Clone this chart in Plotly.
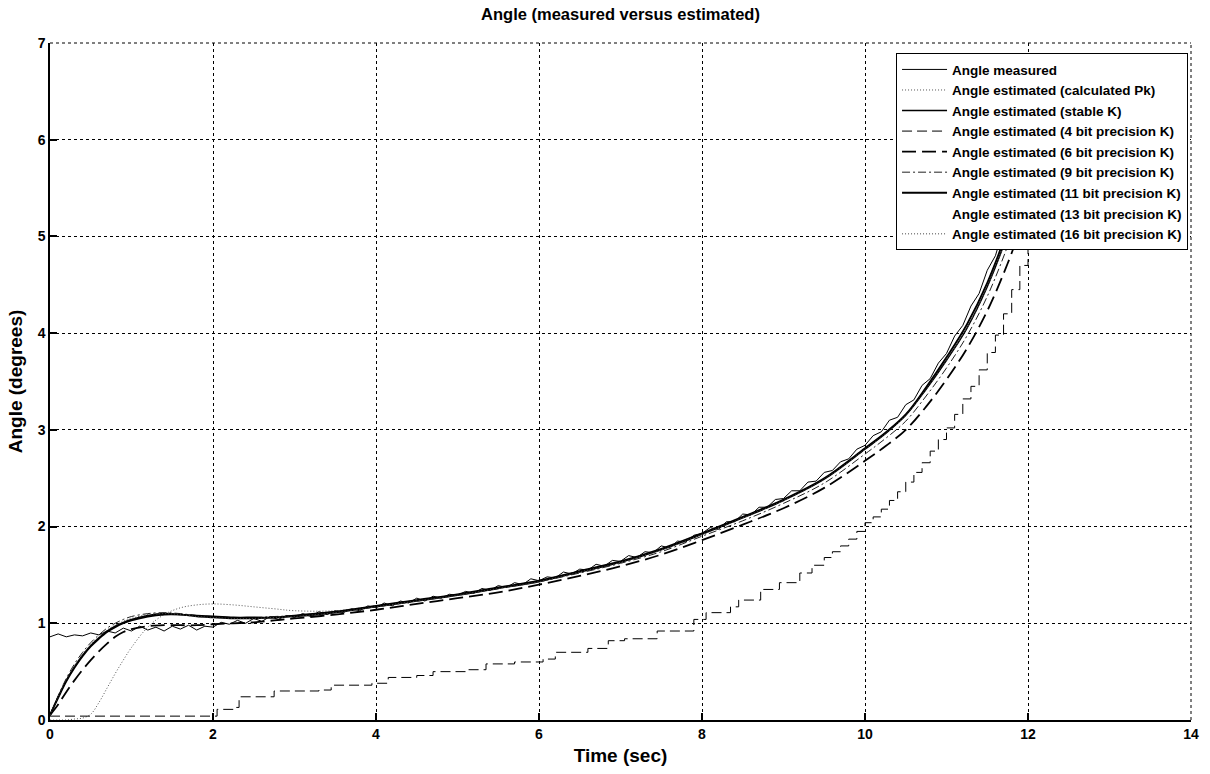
import plotly.graph_objects as go

# ---------------- data ----------------
t_meas = [0.0, 0.1, 0.2, 0.3, 0.4, 0.5, 0.6, 0.7, 0.8, 0.9,
          1.0, 1.1, 1.2, 1.3, 1.4, 1.5, 1.6, 1.7, 1.8, 1.9,
          2.0, 2.1, 2.2, 2.3, 2.4, 2.5, 2.6, 2.7, 2.8, 2.9,
          3.0, 3.1, 3.2, 3.3, 3.4, 3.5, 3.6, 3.7, 3.8, 3.9,
          4.0, 4.1, 4.2, 4.3, 4.4, 4.5, 4.6, 4.7, 4.8, 4.9,
          5.0, 5.1, 5.2, 5.3, 5.4, 5.5, 5.6, 5.7, 5.8, 5.9,
          6.0, 6.1, 6.2, 6.3, 6.4, 6.5, 6.6, 6.7, 6.8, 6.9,
          7.0, 7.1, 7.2, 7.3, 7.4, 7.5, 7.6, 7.7, 7.8, 7.9,
          8.0, 8.1, 8.2, 8.3, 8.4, 8.5, 8.6, 8.7, 8.8, 8.9,
          9.0, 9.1, 9.2, 9.3, 9.4, 9.5, 9.6, 9.7, 9.8, 9.9,
          10.0, 10.1, 10.2, 10.3, 10.4, 10.5, 10.6, 10.7, 10.8, 10.9,
          11.0, 11.1, 11.2, 11.3, 11.4, 11.5, 11.6, 11.7, 11.8, 11.9, 12.0]
angle_measured = [0.86, 0.89, 0.86, 0.88, 0.87, 0.90, 0.88, 0.92, 0.90, 0.95,
                  0.92, 0.97, 0.93, 0.96, 0.92, 0.97, 0.94, 0.98, 0.93, 0.97,
                  0.96, 1.01, 0.99, 1.03, 1.00, 1.05, 1.02, 1.07, 1.04, 1.08,
                  1.06, 1.10, 1.07, 1.12, 1.09, 1.13, 1.11, 1.15, 1.13, 1.18,
                  1.16, 1.21, 1.18, 1.23, 1.21, 1.26, 1.23, 1.28, 1.26, 1.30,
                  1.29, 1.33, 1.31, 1.36, 1.34, 1.39, 1.37, 1.42, 1.40, 1.46,
                  1.44, 1.48, 1.47, 1.53, 1.51, 1.56, 1.55, 1.61, 1.59, 1.65,
                  1.64, 1.70, 1.68, 1.74, 1.73, 1.80, 1.78, 1.85, 1.84, 1.91,
                  1.93, 1.99, 1.97, 2.05, 2.05, 2.13, 2.12, 2.20, 2.20, 2.28,
                  2.29, 2.37, 2.37, 2.46, 2.47, 2.56, 2.58, 2.67, 2.70, 2.80,
                  2.84, 2.94, 2.98, 3.10, 3.13, 3.26, 3.31, 3.46, 3.53, 3.69,
                  3.79, 3.97, 4.08, 4.28, 4.41, 4.65, 4.80, 5.08, 5.27, 5.58, 5.80]

t_est = [0.0, 0.1, 0.2, 0.3, 0.4, 0.5, 0.6, 0.7, 0.8, 0.9, 1.0, 1.2, 1.4, 1.6, 1.8,
         2.0, 2.25, 2.5, 2.75, 3.0, 3.5, 4.0, 4.5, 5.0, 5.5, 6.0, 6.5, 7.0, 7.5, 8.0,
         8.5, 9.0, 9.5, 10.0, 10.25, 10.5, 10.75, 11.0, 11.25, 11.5, 11.75, 12.0]
est_calc_pk = [0.00, 0.00, 0.00, 0.01, 0.02, 0.06, 0.18, 0.33, 0.48, 0.62, 0.75, 0.96, 1.09, 1.16, 1.19,
               1.20, 1.19, 1.17, 1.15, 1.13, 1.13, 1.18, 1.24, 1.30, 1.37, 1.44, 1.54, 1.64, 1.77, 1.93,
               2.10, 2.28, 2.50, 2.81, 2.97, 3.16, 3.44, 3.75, 4.09, 4.52, 5.07, 5.70]
est_stable_k = [0.05, 0.24, 0.41, 0.55, 0.67, 0.77, 0.85, 0.92, 0.97, 1.01, 1.04, 1.08, 1.10, 1.09, 1.07,
                1.06, 1.05, 1.05, 1.06, 1.07, 1.11, 1.17, 1.23, 1.29, 1.36, 1.43, 1.53, 1.63, 1.76, 1.92,
                2.09, 2.27, 2.49, 2.80, 2.96, 3.15, 3.42, 3.72, 4.05, 4.48, 5.02, 5.65]
est_6bit = [0.05, 0.16, 0.29, 0.41, 0.52, 0.62, 0.71, 0.79, 0.86, 0.91, 0.94, 0.97, 0.98, 0.98, 0.98,
            0.99, 1.00, 1.01, 1.03, 1.05, 1.09, 1.14, 1.20, 1.26, 1.32, 1.40, 1.49, 1.59, 1.71, 1.86,
            2.02, 2.19, 2.40, 2.68, 2.83, 3.00, 3.24, 3.52, 3.84, 4.23, 4.72, 5.30]
est_9bit = [0.05, 0.25, 0.43, 0.58, 0.70, 0.80, 0.88, 0.95, 1.00, 1.04, 1.07, 1.10, 1.11, 1.10, 1.08,
            1.07, 1.06, 1.06, 1.07, 1.08, 1.12, 1.17, 1.23, 1.29, 1.36, 1.43, 1.52, 1.62, 1.74, 1.90,
            2.06, 2.24, 2.45, 2.75, 2.91, 3.09, 3.35, 3.64, 3.97, 4.38, 4.90, 5.50]
est_11bit = [0.05, 0.23, 0.40, 0.54, 0.66, 0.76, 0.84, 0.91, 0.96, 1.00, 1.03, 1.07, 1.09, 1.09, 1.08,
             1.07, 1.06, 1.06, 1.06, 1.08, 1.12, 1.18, 1.24, 1.30, 1.37, 1.44, 1.54, 1.64, 1.77, 1.93,
             2.10, 2.28, 2.50, 2.81, 2.97, 3.16, 3.44, 3.75, 4.09, 4.52, 5.07, 5.70]
est_13bit = [0.05, 0.24, 0.41, 0.55, 0.67, 0.77, 0.85, 0.92, 0.97, 1.01, 1.04, 1.08, 1.10, 1.09, 1.07,
             1.06, 1.05, 1.05, 1.06, 1.07, 1.11, 1.17, 1.23, 1.29, 1.36, 1.43, 1.53, 1.63, 1.76, 1.92,
             2.09, 2.27, 2.49, 2.80, 2.96, 3.15, 3.42, 3.72, 4.05, 4.48, 5.02, 5.65]
est_16bit = [0.05, 0.24, 0.42, 0.56, 0.68, 0.78, 0.86, 0.93, 0.98, 1.02, 1.05, 1.09, 1.10, 1.09, 1.07,
             1.06, 1.05, 1.05, 1.06, 1.07, 1.11, 1.17, 1.23, 1.29, 1.36, 1.43, 1.53, 1.63, 1.76, 1.92,
             2.09, 2.27, 2.49, 2.80, 2.96, 3.15, 3.42, 3.72, 4.05, 4.48, 5.02, 5.65]

t_4bit = [0.0, 2.0, 2.05, 2.25, 2.32, 2.75, 3.3, 3.45, 3.95, 4.15, 4.5, 4.7, 5.1, 5.35, 5.7,
          6.05, 6.2, 6.6, 6.85, 7.05, 7.45, 7.9, 8.05, 8.35, 8.45, 8.72, 8.95, 9.2, 9.35, 9.5,
          9.6, 9.7, 9.8, 9.9, 10.0, 10.1, 10.2, 10.3, 10.4, 10.5, 10.6, 10.7, 10.8, 10.9,
          11.0, 11.1, 11.2, 11.3, 11.4, 11.5, 11.6, 11.7, 11.8, 11.9, 12.0]
est_4bit = [0.04, 0.04, 0.11, 0.13, 0.24, 0.30, 0.31, 0.36, 0.38, 0.44, 0.46, 0.50, 0.52, 0.58, 0.60,
            0.63, 0.70, 0.74, 0.82, 0.84, 0.92, 1.04, 1.11, 1.17, 1.24, 1.35, 1.42, 1.52, 1.60, 1.68,
            1.74, 1.80, 1.87, 1.95, 2.04, 2.10, 2.18, 2.27, 2.36, 2.46, 2.56, 2.66, 2.78, 2.90,
            3.02, 3.16, 3.32, 3.45, 3.62, 3.80, 3.98, 4.20, 4.45, 4.70, 5.00]

series_names = ["Angle measured",
                "Angle estimated (calculated Pk)",
                "Angle estimated (stable K)",
                "Angle estimated (4 bit precision K)",
                "Angle estimated (6 bit precision K)",
                "Angle estimated (9 bit precision K)",
                "Angle estimated (11 bit precision K)",
                "Angle estimated (13 bit precision K)",
                "Angle estimated (16 bit precision K)"]

x_ticks = [0, 2, 4, 6, 8, 10, 12, 14]
y_ticks = [0, 1, 2, 3, 4, 5, 6, 7]

# ---------------- figure ----------------
FONT = "Liberation Sans, Arial, sans-serif"
fig = go.Figure()

def add(x, y, name, color, width, dash, shape="linear"):
    fig.add_trace(go.Scatter(x=x, y=y, name=name, mode="lines",
                             line=dict(color=color, width=width, dash=dash, shape=shape)))

add(t_meas, angle_measured, series_names[0], "black", 1, "solid")
add(t_est, est_calc_pk, series_names[1], "#555555", 1, "1px,2px", "spline")
add(t_est, est_stable_k, series_names[2], "black", 1.5, "solid", "spline")
add(t_4bit, est_4bit, series_names[3], "black", 1, "10px,5px", "hv")
add(t_est, est_6bit, series_names[4], "black", 1.8, "14px,6px", "spline")
add(t_est, est_9bit, series_names[5], "#222222", 1, "8px,3px,2px,3px", "spline")
add(t_est, est_11bit, series_names[6], "black", 1.8, "solid", "spline")
add(t_est, est_13bit, series_names[7], "rgba(255,255,255,0)", 1, "solid", "spline")
add(t_est, est_16bit, series_names[8], "#444444", 1, "1px,2px", "spline")

fig.update_layout(
    width=1210, height=774,
    margin=dict(l=50, r=11, t=43, b=53),
    paper_bgcolor="white", plot_bgcolor="white",
    font=dict(family=FONT, color="black", size=13, weight="bold"),
    title=dict(text="Angle (measured versus estimated)", x=0.5, xref="paper", xanchor="center",
               y=0.982, yanchor="middle",
               font=dict(family=FONT, size=16.5, color="black", weight="bold")),
    showlegend=True,
    legend=dict(x=0.9974, y=0.985, xanchor="right", yanchor="top",
                bgcolor="white", bordercolor="black", borderwidth=1,
                font=dict(family=FONT, size=13.5, color="black", weight="bold"),
                itemwidth=45, tracegroupgap=0),
)

fig.update_xaxes(range=[0, 14], tickvals=x_ticks, ticktext=[str(v) for v in x_ticks],
                 showline=True, linecolor="black", linewidth=1.5, mirror=False,
                 ticks="inside", ticklen=7, tickcolor="black", tickwidth=1.5,
                 showgrid=True, gridcolor="black", gridwidth=1, griddash="3px,3px",
                 zeroline=False,
                 tickfont=dict(family=FONT, size=14, color="black", weight="bold"),
                 title=dict(text="Time (sec)", standoff=8,
                            font=dict(family=FONT, size=19, color="black", weight="bold")))
fig.update_yaxes(range=[0, 7], tickvals=y_ticks, ticktext=[str(v) for v in y_ticks],
                 showline=True, linecolor="black", linewidth=1.5, mirror=False,
                 ticks="inside", ticklen=7, tickcolor="black", tickwidth=1.5,
                 showgrid=True, gridcolor="black", gridwidth=1, griddash="3px,3px",
                 zeroline=False,
                 tickfont=dict(family=FONT, size=14, color="black", weight="bold"),
                 title=dict(text="Angle (degrees)", standoff=10,
                            font=dict(family=FONT, size=19, color="black", weight="bold")))

# top and right borders of the MATLAB axes appear as dotted grid lines
fig.add_shape(type="line", xref="paper", yref="paper", x0=0, x1=1, y0=1, y1=1,
              line=dict(color="black", width=1, dash="3px,3px"))
fig.add_shape(type="line", xref="paper", yref="paper", x0=1, x1=1, y0=0, y1=1,
              line=dict(color="black", width=1, dash="3px,3px"))

fig.write_html("out.html")
